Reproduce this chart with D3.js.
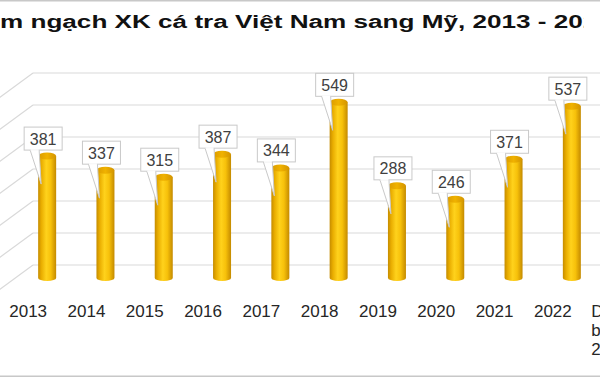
<!DOCTYPE html>
<html>
<head>
<meta charset="utf-8">
<script src="https://cdn.jsdelivr.net/npm/d3@7"></script>
<style>
  body { margin: 0; background: #fff; }
  svg { display: block; }
</style>
</head>
<body>
<div id="chart"></div>
<script>
// data
let years = ["2013", "2014", "2015", "2016", "2017", "2018", "2019", "2020", "2021", "2022", "Dự báo 2023"];
let lastLabelLines = ["Dự", "báo", "2023"];
let values = [381, 337, 315, 387, 344, 549, 288, 246, 371, 537, 450];
let gridTicks = [0, 100, 200, 300, 400, 500, 600];
let titleText = "Kim ngạch XK cá tra Việt Nam sang Mỹ, 2013 - 2023";

let width = 600, height = 377;

let svg = d3.select("#chart")
    .append("svg")
    .attr("width", width)
    .attr("height", height);

let defs = svg.append("defs");

// cylinder shading
let grad = defs.append("linearGradient").attr("id", "cyl").attr("x1", "0%").attr("x2", "100%");
[["0%", "#c58c00"], ["18%", "#e9ad00"], ["45%", "#ffd21c"], ["70%", "#f7c10a"], ["100%", "#c48a00"]]
    .forEach(function(s) { grad.append("stop").attr("offset", s[0]).attr("stop-color", s[1]); });
let gradTop = defs.append("linearGradient").attr("id", "cylTop").attr("x1", "0%").attr("x2", "100%");
[["0%", "#d99a00"], ["50%", "#f0b200"], ["100%", "#d39400"]]
    .forEach(function(s) { gradTop.append("stop").attr("offset", s[0]).attr("stop-color", s[1]); });

let clipRect = defs.append("clipPath").attr("id", "titleClip")
    .append("rect").attr("x", 0).attr("y", 0).attr("width", 600).attr("height", 45);

// frame lines of the image
svg.append("rect").attr("x", 0).attr("y", 0).attr("width", width).attr("height", 1.5).attr("fill", "#c8c8c8");
svg.append("rect").attr("x", 0).attr("y", height - 1.5).attr("width", width).attr("height", 1.5).attr("fill", "#c8c8c8");

// scales
let x = d3.scaleBand().domain(years).range([18, 18 + 11 * 58.3]);
let yWall = d3.scaleLinear().domain([0, 600]).range([265, 73]);
let yBar = d3.scaleLinear().domain([0, 600]).range([278, 86]);
let wallLeft = 33;

// back wall gridlines + side wall diagonals
let grid = svg.append("g");
gridTicks.forEach(function(t) {
    grid.append("line")
        .attr("x1", wallLeft).attr("x2", width)
        .attr("y1", yWall(t)).attr("y2", yWall(t))
        .attr("stroke", "#d9d9d9").attr("stroke-width", 1.2);
    grid.append("line")
        .attr("x1", wallLeft).attr("x2", wallLeft - 45)
        .attr("y1", yWall(t)).attr("y2", yWall(t) + 33)
        .attr("stroke", "#d9d9d9").attr("stroke-width", 1.2);
});

// title, stretched and cut off after "... 2013 - 20" like the picture
let titleFont = 19;
let title = svg.append("g").attr("clip-path", "url(#titleClip)");
let titleEl = title.append("text")
    .attr("font-family", "Liberation Sans, Arial, sans-serif")
    .attr("font-weight", "bold")
    .attr("font-size", titleFont)
    .attr("fill", "#111")
    .text(titleText);
let n = titleText.length;
let mStart = titleEl.node().getStartPositionOfChar(2).x;
let zeroExt = titleEl.node().getExtentOfChar(n - 3);
let zeroEnd = zeroExt.x + zeroExt.width;
let nextStart = titleEl.node().getStartPositionOfChar(n - 2).x;
let sx = 583 / (zeroEnd - mStart);
titleEl.attr("transform", "translate(" + (-mStart * sx) + ",28) scale(" + sx + ",1)");
clipRect.attr("width", (nextStart - mStart) * sx + 0.5);

// cylinders
let barW = 18, ryTop = 3.5, ryBot = 3;
let bars = svg.append("g");
years.forEach(function(c, i) {
    let cx = x(c) + x.bandwidth() / 2;
    let yt = yBar(values[i]), yb = yBar(0);
    let l = cx - barW / 2, r = cx + barW / 2;
    bars.append("path")
        .attr("d", "M" + l + "," + yt + " L" + l + "," + yb +
            " A" + (barW / 2) + "," + ryBot + " 0 0 0 " + r + "," + yb +
            " L" + r + "," + yt + " Z")
        .attr("fill", "url(#cyl)");
    bars.append("ellipse")
        .attr("cx", cx).attr("cy", yt)
        .attr("rx", barW / 2).attr("ry", ryTop)
        .attr("fill", "url(#cylTop)");
});

// callouts
let callouts = svg.append("g");
years.forEach(function(c, i) {
    let cx = x(c) + x.bandwidth() / 2;
    let yt = yBar(values[i]);
    let bw = 38, bh = 23;
    let bx = cx - 4 - bw / 2, by = yt - 6 - bh;
    let g = callouts.append("g");
    // tail
    let tip = [cx - 6, yt + 28];
    g.append("path")
        .attr("d", "M" + (bx + 6) + "," + (by + bh) + " L" + tip[0] + "," + tip[1] +
            " L" + (bx + 15) + "," + (by + bh))
        .attr("fill", "#fff").attr("stroke", "#c9c9c9").attr("stroke-width", 1);
    g.append("rect")
        .attr("x", bx).attr("y", by).attr("width", bw).attr("height", bh)
        .attr("fill", "#fff").attr("stroke", "#c9c9c9").attr("stroke-width", 1);
    // cover the tail joint
    g.append("line")
        .attr("x1", bx + 6.5).attr("x2", bx + 14.5)
        .attr("y1", by + bh).attr("y2", by + bh)
        .attr("stroke", "#fff").attr("stroke-width", 1.5);
    g.append("text")
        .attr("x", bx + bw / 2).attr("y", by + bh / 2 + 6)
        .attr("text-anchor", "middle")
        .attr("font-family", "Liberation Sans, Arial, sans-serif")
        .attr("font-size", 16)
        .attr("fill", "#404040")
        .text(values[i]);
});

// category labels
let labels = svg.append("g")
    .attr("font-family", "Liberation Sans, Arial, sans-serif")
    .attr("font-size", 17)
    .attr("fill", "#262626");
years.forEach(function(c, i) {
    let lx = x(c) + x.bandwidth() / 2 - 19;
    if (i < years.length - 1) {
        labels.append("text").attr("x", lx).attr("y", 317)
            .attr("text-anchor", "middle").text(c);
    } else {
        lastLabelLines.forEach(function(t, k) {
            labels.append("text").attr("x", lx - 20).attr("y", 317 + k * 19)
                .attr("text-anchor", "start").text(t);
        });
    }
});
</script>
</body>
</html>
